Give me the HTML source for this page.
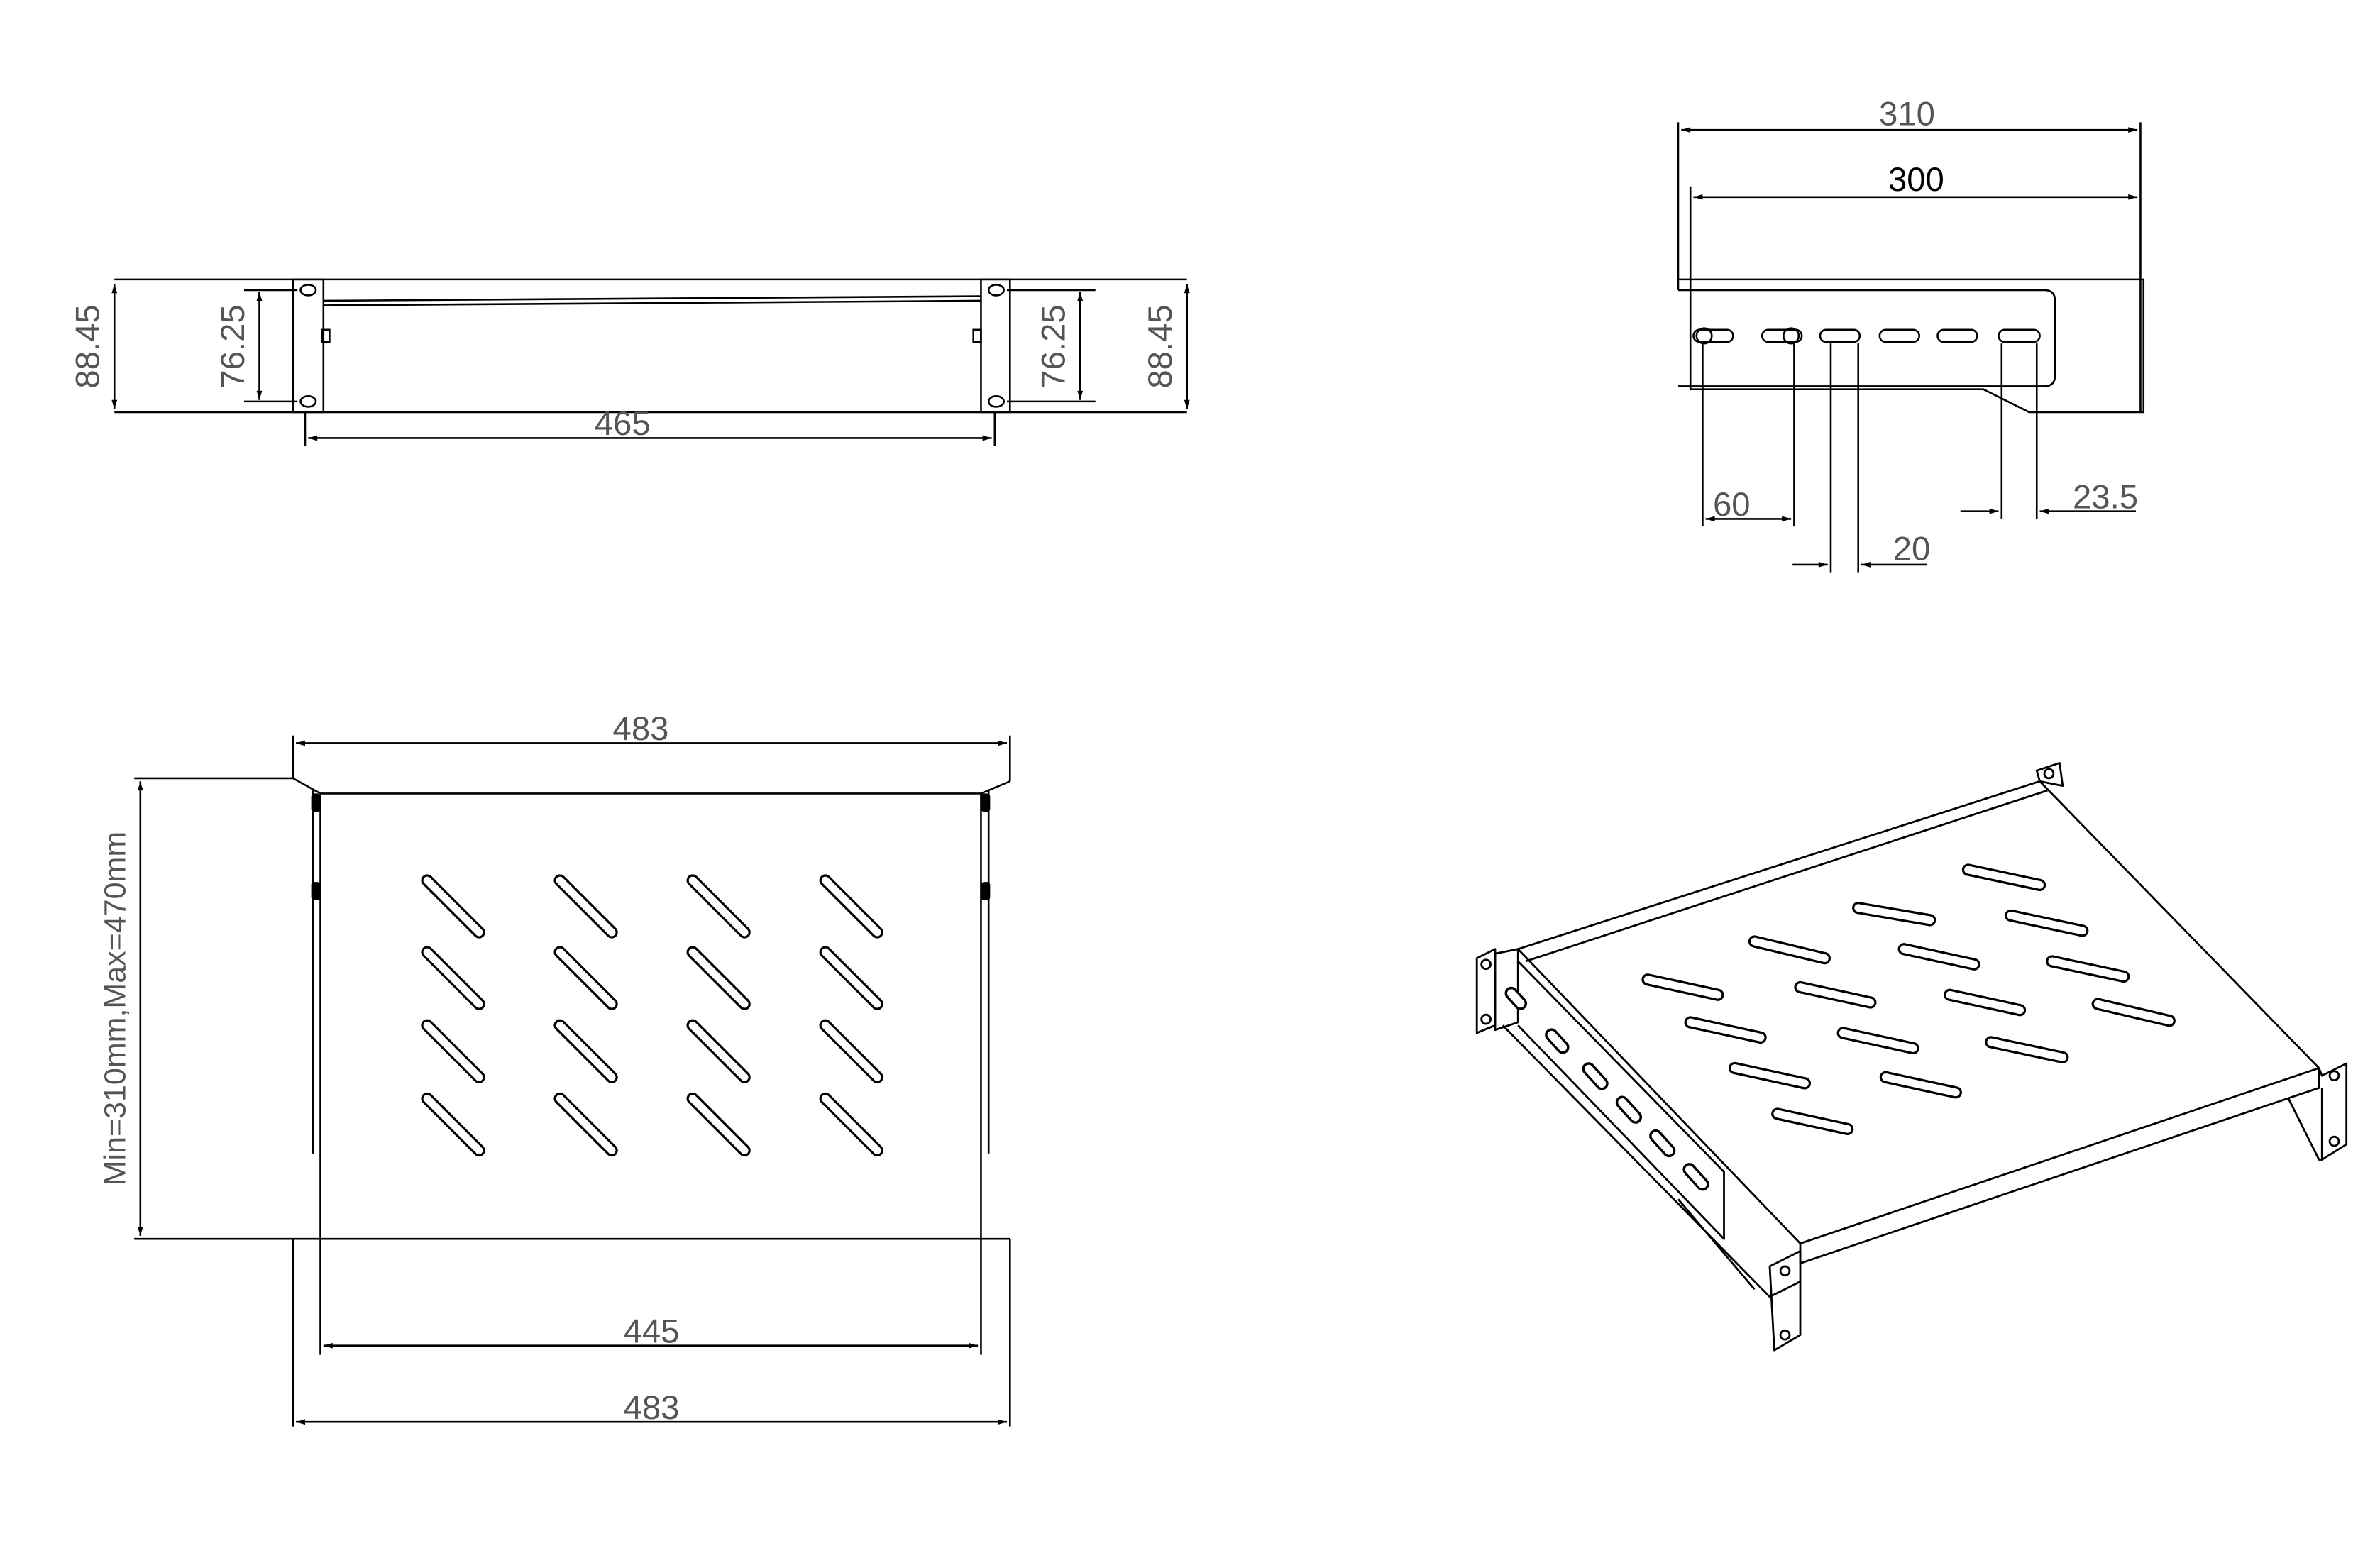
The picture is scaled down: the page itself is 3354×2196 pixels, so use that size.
<!DOCTYPE html>
<html><head><meta charset="utf-8"><style>
html,body{margin:0;padding:0;background:#fff;}
svg{display:block}
text{font-family:"Liberation Sans",sans-serif;fill:#555;font-size:22px}
</style></head><body>
<svg width="3354" height="2196" viewBox="0 0 1560 1021" xmlns="http://www.w3.org/2000/svg">
<defs>
<marker id="a" viewBox="0 0 10 10" refX="10" refY="5" markerWidth="10" markerHeight="6" orient="auto-start-reverse" markerUnits="userSpaceOnUse"><path d="M0,2 L10,5 L0,8 z" fill="#000"/></marker>
</defs>
<g fill="none" stroke="#000" stroke-width="1.2">
<!-- FRONT VIEW -->
<line x1="75" y1="183" x2="778" y2="183"/>
<line x1="75" y1="270" x2="778" y2="270"/>
<rect x="192" y="183" width="20" height="87"/>
<rect x="643" y="183" width="19" height="87"/>
<ellipse cx="202" cy="190" rx="5" ry="3.5"/><ellipse cx="202" cy="263" rx="5" ry="3.5"/>
<ellipse cx="653" cy="190" rx="5" ry="3.5"/><ellipse cx="653" cy="263" rx="5" ry="3.5"/>
<line x1="212" y1="197" x2="643" y2="194"/><line x1="212" y1="200" x2="643" y2="197"/>
<rect x="211" y="216" width="5" height="8"/><rect x="638" y="216" width="5" height="8"/>
<line x1="75" y1="186" x2="75" y2="268" marker-start="url(#a)" marker-end="url(#a)"/>
<line x1="170" y1="191" x2="170" y2="262" marker-start="url(#a)" marker-end="url(#a)"/>
<line x1="160" y1="190" x2="195" y2="190"/><line x1="160" y1="263" x2="195" y2="263"/>
<line x1="708" y1="191" x2="708" y2="262" marker-start="url(#a)" marker-end="url(#a)"/>
<line x1="660" y1="190" x2="718" y2="190"/><line x1="660" y1="263" x2="718" y2="263"/>
<line x1="778" y1="186" x2="778" y2="268" marker-start="url(#a)" marker-end="url(#a)"/>
<line x1="200" y1="270" x2="200" y2="292"/><line x1="652" y1="270" x2="652" y2="292"/>
<line x1="202" y1="287" x2="650" y2="287" marker-start="url(#a)" marker-end="url(#a)"/>

<!-- SIDE VIEW -->
<line x1="1100" y1="80" x2="1100" y2="190"/><line x1="1403" y1="80" x2="1403" y2="270"/>
<line x1="1108" y1="122" x2="1108" y2="190"/>
<line x1="1102" y1="85" x2="1401" y2="85" marker-start="url(#a)" marker-end="url(#a)"/>
<line x1="1110" y1="129" x2="1401" y2="129" marker-start="url(#a)" marker-end="url(#a)"/>
<path d="M1100,183 H1405 V270 H1330 L1300,255 H1108 V190"/>
<path d="M1100,190 H1340 Q1347,190 1347,197 V246 Q1347,253 1340,253 H1100"/>
<rect x="1193" y="216" width="26" height="8" rx="4"/>
<rect x="1232" y="216" width="26" height="8" rx="4"/>
<rect x="1270" y="216" width="26" height="8" rx="4"/>
<rect x="1310" y="216" width="27" height="8" rx="4"/>
<rect x="1110" y="216" width="26" height="8" rx="4"/>
<rect x="1155" y="216" width="26" height="8" rx="4"/>
<circle cx="1117" cy="220" r="5"/><circle cx="1174" cy="220" r="5"/>
<line x1="1116" y1="225" x2="1116" y2="345"/><line x1="1176" y1="225" x2="1176" y2="345"/>
<line x1="1118" y1="340" x2="1174" y2="340" marker-start="url(#a)" marker-end="url(#a)"/>
<line x1="1200" y1="225" x2="1200" y2="375"/><line x1="1218" y1="225" x2="1218" y2="375"/>
<line x1="1175" y1="370" x2="1198" y2="370" marker-end="url(#a)"/>
<line x1="1263" y1="370" x2="1220" y2="370" marker-end="url(#a)"/>
<line x1="1312" y1="225" x2="1312" y2="340"/><line x1="1335" y1="225" x2="1335" y2="340"/>
<line x1="1285" y1="335" x2="1310" y2="335" marker-end="url(#a)"/>
<line x1="1400" y1="335" x2="1337" y2="335" marker-end="url(#a)"/>

<!-- TOP VIEW -->
<line x1="192" y1="482" x2="192" y2="510"/><line x1="662" y1="482" x2="662" y2="512"/>
<line x1="194" y1="487" x2="660" y2="487" marker-start="url(#a)" marker-end="url(#a)"/>
<path d="M88,510 H192 L210,520 V812 M210,520 H643 V812 M662,512 L643,520"/>
<line x1="205" y1="518" x2="205" y2="756"/><line x1="648" y1="518" x2="648" y2="756"/>
<line x1="88" y1="812" x2="662" y2="812"/>
<line x1="92" y1="512" x2="92" y2="810" marker-start="url(#a)" marker-end="url(#a)"/>
<line x1="192" y1="812" x2="192" y2="935"/><line x1="662" y1="812" x2="662" y2="935"/>
<line x1="210" y1="812" x2="210" y2="888"/><line x1="643" y1="812" x2="643" y2="888"/>
<line x1="212" y1="882" x2="641" y2="882" marker-start="url(#a)" marker-end="url(#a)"/>
<line x1="194" y1="932" x2="660" y2="932" marker-start="url(#a)" marker-end="url(#a)"/>
</g>
<g fill="#000">
<rect x="204" y="520" width="6" height="12" rx="2"/><rect x="204" y="578" width="6" height="12" rx="2"/>
<rect x="643" y="520" width="6" height="12" rx="2"/><rect x="643" y="578" width="6" height="12" rx="2"/>
</g>
<g stroke-linecap="round">
<g stroke="#000" stroke-width="8">
<path d="M280,577 l34,34 M367,577 l34,34 M454,577 l34,34 M541,577 l34,34 M280,624 l34,34 M367,624 l34,34 M454,624 l34,34 M541,624 l34,34 M280,672 l34,34 M367,672 l34,34 M454,672 l34,34 M541,672 l34,34 M280,720 l34,34 M367,720 l34,34 M454,720 l34,34 M541,720 l34,34"/>
<path d="M1290,570 L1337,580 M1218,595 L1265,603 M1318,600 L1365,610 M1150,617 L1196,628 M1248,622 L1294,632 M1345,630 L1392,640 M1080,642 L1126,652 M1180,647 L1226,657 M1278,652 L1324,662 M1375,658 L1422,669 M1108,670 L1154,680 M1208,677 L1254,687 M1305,683 L1352,693 M1137,700 L1183,710 M1236,706 L1282,716 M1165,730 L1211,740"/>
</g>
<g stroke="#fff" stroke-width="5">
<path d="M280,577 l34,34 M367,577 l34,34 M454,577 l34,34 M541,577 l34,34 M280,624 l34,34 M367,624 l34,34 M454,624 l34,34 M541,624 l34,34 M280,672 l34,34 M367,672 l34,34 M454,672 l34,34 M541,672 l34,34 M280,720 l34,34 M367,720 l34,34 M454,720 l34,34 M541,720 l34,34"/>
<path d="M1290,570 L1337,580 M1218,595 L1265,603 M1318,600 L1365,610 M1150,617 L1196,628 M1248,622 L1294,632 M1345,630 L1392,640 M1080,642 L1126,652 M1180,647 L1226,657 M1278,652 L1324,662 M1375,658 L1422,669 M1108,670 L1154,680 M1208,677 L1254,687 M1305,683 L1352,693 M1137,700 L1183,710 M1236,706 L1282,716 M1165,730 L1211,740"/>
</g>
</g>
<!-- ISO VIEW -->
<g fill="none" stroke="#000" stroke-width="1.3" stroke-linejoin="round">
<path d="M995,622 L1337,512 L1520,700 L1180,815 Z"/>
<path d="M1180,815 L1180,828 L1520,713 L1520,700"/>
<path d="M1000,630 L1342,518"/>
<path d="M1337,512 L1335,505 L1350,500 L1352,515 Z"/>
<circle cx="1343" cy="507" r="3"/>
<path d="M1520,700 L1522,705 L1538,697 L1538,750 L1522,760 L1522,713"/>
<circle cx="1530" cy="705" r="3"/><circle cx="1530" cy="748" r="3"/>
<path d="M1500,720 L1520,760 L1522,760"/>
<path d="M1160,830 L1180,820 L1180,875 L1163,885 Z"/>
<circle cx="1170" cy="833" r="3"/><circle cx="1170" cy="875" r="3"/>
<path d="M980,625 L995,622 L995,670 L980,675 Z"/>
<path d="M968,628 L980,622 L980,672 L968,677 Z"/>
<circle cx="974" cy="632" r="3"/><circle cx="974" cy="668" r="3"/>
<path d="M995,630 L1130,768 L1130,812 L995,672"/>
<path d="M985,672 L1160,850 L1180,840"/>
<path d="M1100,786 L1150,845"/>
</g>
<g fill="#fff" stroke="#000" stroke-width="1.6">
<rect x="986" y="651" width="16" height="7" rx="3.5" transform="rotate(48 994 654)"/>
<rect x="1012" y="679" width="18" height="7" rx="3.5" transform="rotate(48 1021 682)"/>
<rect x="1036" y="702" width="20" height="7" rx="3.5" transform="rotate(48 1046 705)"/>
<rect x="1058" y="724" width="20" height="7" rx="3.5" transform="rotate(48 1068 727)"/>
<rect x="1080" y="746" width="20" height="7" rx="3.5" transform="rotate(48 1090 749)"/>
<rect x="1102" y="768" width="20" height="7" rx="3.5" transform="rotate(48 1112 771)"/>
</g>
<!-- TEXT -->
<text x="65" y="227" text-anchor="middle" transform="rotate(-90 65 227)">88.45</text>
<text x="160" y="227" text-anchor="middle" transform="rotate(-90 160 227)">76.25</text>
<text x="698" y="227" text-anchor="middle" transform="rotate(-90 698 227)">76.25</text>
<text x="768" y="227" text-anchor="middle" transform="rotate(-90 768 227)">88.45</text>
<text x="408" y="285" text-anchor="middle">465</text>
<text x="1250" y="82" text-anchor="middle">310</text>
<text x="1256" y="125" text-anchor="middle" style="fill:#000">300</text>
<text x="1135" y="338" text-anchor="middle">60</text>
<text x="1253" y="367" text-anchor="middle">20</text>
<text x="1380" y="333" text-anchor="middle">23.5</text>
<text x="420" y="485" text-anchor="middle">483</text>
<text x="82" y="661" text-anchor="middle" transform="rotate(-90 82 661)" style="font-size:20px">Min=310mm,Max=470mm</text>
<text x="427" y="880" text-anchor="middle">445</text>
<text x="427" y="930" text-anchor="middle">483</text>
</svg>
</body></html>
